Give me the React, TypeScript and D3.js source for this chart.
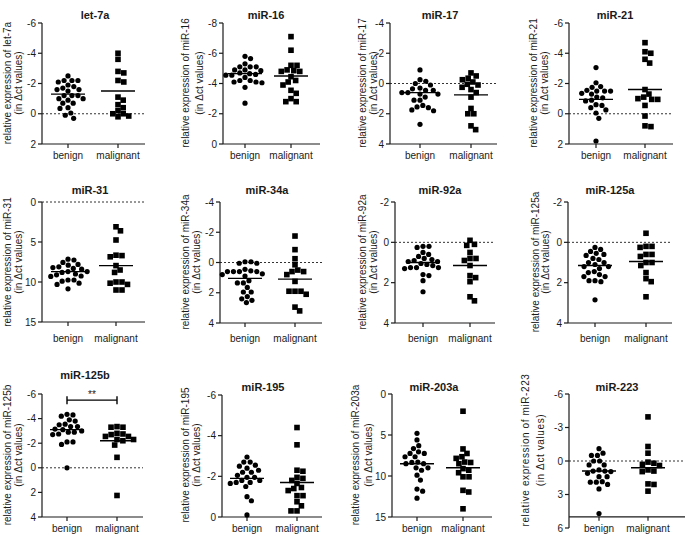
import React from 'react';
import * as d3 from 'd3';

const categories = ['benign', 'malignant'];

const panelNames = ['let-7a', 'miR-16', 'miR-17', 'miR-21', 'miR-31', 'miR-34a', 'miR-92a', 'miR-125a', 'miR-125b', 'miR-195', 'miR-203a', 'miR-223'];

// Δct values
const let7aBenign = [-2.5, -2.2, -2.2, -2.2, -2.1, -1.8, -1.7, -1.5, -1.6, -1.6, -1.2, -1.2, -1.2, -1.0, -1.0, -0.9, -0.7, -0.7, -0.35, -0.4, -0.05, 0.1, 0.3, -1.9];
const let7aMalignant = [-4.0, -3.6, -2.8, -2.7, -2.1, -2.2, -1.1, -0.6, -0.9, -0.4, 0.0, -0.2, 0.15, 0.2, 0.0];
const miR16Benign = [-5.8, -5.65, -5.3, -5.1, -5.1, -5.1, -4.9, -4.85, -4.9, -4.7, -4.65, -4.6, -4.55, -4.4, -4.55, -4.2, -4.2, -4.1, -4.05, -4.1, -3.75, -2.7];
const miR16Malignant = [-7.1, -6.2, -5.2, -5.2, -4.85, -4.9, -4.8, -4.8, -4.45, -4.2, -4.1, -3.55, -3.9, -3.35, -3.0, -2.8, -2.8];
const miR17Benign = [-0.9, -0.15, -0.25, 0.0, 0.3, 0.1, 0.45, 0.45, 0.35, 0.6, 0.7, 0.6, 0.7, 0.9, 1.1, 1.1, 1.45, 1.6, 1.55, 1.75, 1.8, 2.7];
const miR17Malignant = [-0.7, -0.5, -0.35, -0.25, -0.1, 0.05, 0.1, 0.4, 0.25, 0.6, 0.9, 1.65, 2.0, 2.0, 2.8, 3.05];
const miR21Benign = [-3.05, -2.05, -1.8, -1.75, -1.55, -1.5, -1.5, -1.5, -1.35, -1.3, -1.1, -1.05, -0.9, -0.85, -0.6, -0.4, -0.55, -0.25, -0.05, 0.3, 1.8];
const miR21Malignant = [-4.7, -4.1, -4.0, -3.6, -3.35, -1.6, -1.3, -1.0, -1.1, -0.95, -0.95, -0.55, 0.15, 0.85, 0.8];
const miR31Benign = [7.25, 7.15, 7.55, 7.9, 7.8, 8.1, 8.2, 8.3, 8.4, 8.7, 8.7, 8.8, 9.0, 9.1, 9.25, 9.3, 9.75, 9.75, 9.9, 10.15, 10.3, 10.85];
const miR31Malignant = [3.1, 3.6, 4.75, 6.7, 6.65, 6.85, 7.95, 8.5, 8.8, 10.0, 10.0, 10.3, 10.15, 11.0, 11.0];
const miR34aBenign = [-0.05, 0.05, -0.05, 0.05, 0.6, 0.6, 0.55, 0.45, 0.6, 0.6, 0.8, 0.75, 0.9, 1.2, 1.35, 1.35, 1.65, 1.95, 1.95, 2.25, 2.4, 2.5, 2.65];
const miR34aMalignant = [-1.75, -0.85, -0.25, 0.15, 0.5, 0.6, 0.6, 0.8, 1.25, 1.9, 1.9, 2.1, 1.9, 2.95, 3.2];
const miR92aBenign = [0.2, 0.2, 0.25, 0.5, 0.6, 0.7, 0.85, 0.8, 0.9, 0.95, 1.05, 0.95, 1.1, 1.15, 1.25, 1.25, 1.25, 1.3, 1.65, 1.6, 1.9, 2.45];
const miR92aMalignant = [-0.1, 0.1, 0.15, 0.5, 0.8, 0.8, 0.9, 1.15, 1.75, 1.65, 1.95, 2.7, 2.9];
const miR125aBenign = [0.25, 0.35, 0.45, 0.6, 0.55, 0.65, 0.8, 0.85, 1.0, 1.0, 1.1, 1.2, 1.3, 1.2, 1.45, 1.5, 1.6, 1.7, 1.7, 1.9, 1.9, 1.95, 2.85];
const miR125aMalignant = [-0.45, 0.2, 0.2, 0.25, 0.6, 0.6, 0.7, 1.0, 1.0, 1.15, 1.5, 1.8, 1.95, 2.7];
const miR125bBenign = [-4.3, -4.35, -4.2, -3.9, -3.8, -3.5, -3.55, -3.35, -3.35, -3.15, -3.1, -3.0, -2.9, -2.9, -2.75, -2.7, -2.1, -2.1, -1.9, 0.0];
const miR125bMalignant = [-3.3, -3.35, -3.3, -2.8, -2.75, -2.7, -2.55, -2.55, -2.3, -2.3, -2.2, -1.85, -0.85, 2.25];
const miR195Benign = [-2.95, -2.7, -2.7, -2.5, -2.55, -2.4, -2.3, -2.2, -2.2, -2.05, -1.95, -1.95, -1.8, -1.7, -1.7, -1.8, -1.65, -1.5, -1.0, -0.8, -0.1];
const miR195Malignant = [-4.4, -3.55, -2.3, -2.25, -1.95, -1.9, -1.8, -1.65, -1.45, -1.3, -1.4, -1.05, -1.05, -0.75, -0.55, -0.3, -0.3];
const miR203aBenign = [4.8, 5.6, 6.3, 6.65, 7.05, 7.25, 7.25, 7.65, 7.65, 8.35, 8.3, 8.5, 8.5, 9.0, 9.0, 9.3, 9.9, 10.5, 11.6, 11.85, 12.7];
const miR203aMalignant = [2.1, 6.7, 7.25, 7.65, 7.85, 8.3, 8.5, 8.35, 9.1, 9.3, 9.6, 10.1, 10.1, 11.75, 11.95, 14.0];
const miR223Benign = [-1.1, -0.7, -0.5, -0.5, 0.0, 0.0, 0.35, 0.35, 0.8, 0.9, 0.9, 0.95, 1.1, 1.4, 1.4, 1.9, 1.9, 2.1, 1.85, 2.5, 4.7];
const miR223Malignant = [-3.95, -1.3, -0.7, 0.2, 0.1, 0.3, 0.9, 0.8, 0.95, 2.05, 2.1, 2.7, 0.4];

const benignValues = [let7aBenign, miR16Benign, miR17Benign, miR21Benign, miR31Benign, miR34aBenign, miR92aBenign, miR125aBenign, miR125bBenign, miR195Benign, miR203aBenign, miR223Benign];
const malignantValues = [let7aMalignant, miR16Malignant, miR17Malignant, miR21Malignant, miR31Malignant, miR34aMalignant, miR92aMalignant, miR125aMalignant, miR125bMalignant, miR195Malignant, miR203aMalignant, miR223Malignant];

const meanBenign = [-1.3, -4.65, 0.6, -0.95, 8.7, 1.05, 1.0, 1.15, -3.1, -1.9, 8.5, 0.9];
const meanMalignant = [-1.5, -4.5, 0.75, -1.6, 7.95, 1.1, 1.15, 0.95, -2.2, -1.7, 9.0, 0.6];

const yDomains = [[-6, 2], [-8, 0], [-4, 4], [-6, 2], [0, 15], [-4, 4], [-2, 4], [-2, 4], [-6, 4], [-6, 0], [0, 15], [-6, 6]];
const yTicks = [
  [-6, -4, -2, 0, 2], [-8, -6, -4, -2, 0], [-4, -2, 0, 2, 4], [-6, -4, -2, 0, 2],
  [0, 5, 10, 15], [-4, -2, 0, 2, 4], [-2, 0, 2, 4], [-2, 0, 2, 4],
  [-6, -4, -2, 0, 2, 4], [-6, -4, -2, 0], [0, 5, 10, 15], [-6, -3, 0, 3, 6],
];
const zeroLine = [true, false, true, true, true, true, true, true, true, false, false, true];
const xAxisValue = [2, 0, 4, 2, 15, 4, 4, 4, 4, 0, 15, 5];
const significance = [null, null, null, null, null, null, null, null, { label: '**', value: -5.5 }, null, null, null];

// layout (pixels)
const layout = [
  { ax: 42, top: 23, bot: 144, right: 145, bx: 68, mx: 118, tx: 95, ty: 19, lx1: 7, lx2: 18, ly: 83, xly: 159 },
  { ax: 223, top: 23, bot: 144, right: 320, bx: 245, mx: 291, tx: 266, ty: 19, lx1: 185, lx2: 199, ly: 83, xly: 159 },
  { ax: 390, top: 23, bot: 144, right: 497, bx: 420, mx: 471, tx: 440, ty: 19, lx1: 362, lx2: 373, ly: 83, xly: 159 },
  { ax: 569, top: 23, bot: 144, right: 673, bx: 596, mx: 645, tx: 615, ty: 19, lx1: 533, lx2: 544, ly: 83, xly: 159 },
  { ax: 42, top: 202, bot: 322, right: 145, bx: 68, mx: 116, tx: 90, ty: 194, lx1: 7, lx2: 18, ly: 262, xly: 342 },
  { ax: 220, top: 202, bot: 323, right: 322, bx: 245, mx: 295, tx: 267, ty: 194, lx1: 185, lx2: 196, ly: 262, xly: 342 },
  { ax: 395, top: 202, bot: 323, right: 495, bx: 423, mx: 470, tx: 440, ty: 194, lx1: 362, lx2: 373, ly: 262, xly: 342 },
  { ax: 568, top: 202, bot: 323, right: 672, bx: 595, mx: 646, tx: 610, ty: 194, lx1: 535, lx2: 545, ly: 262, xly: 342 },
  { ax: 42, top: 394, bot: 517, right: 143, bx: 67, mx: 117, tx: 85, ty: 379, lx1: 7, lx2: 18, ly: 455, xly: 532 },
  { ax: 222, top: 395, bot: 517, right: 322, bx: 247, mx: 297, tx: 263, ty: 391, lx1: 185, lx2: 196, ly: 455, xly: 532 },
  { ax: 392, top: 394, bot: 517, right: 492, bx: 417, mx: 463, tx: 434, ty: 391, lx1: 355, lx2: 368, ly: 455, xly: 532 },
  { ax: 569, top: 394, bot: 528, right: 685, bx: 599, mx: 648, tx: 617, ty: 391, lx1: 525, lx2: 540, ly: 450, xly: 532 },
];

const FONT = '"Liberation Sans", Arial, Helvetica, sans-serif';
const INK = '#1a1a1a';
const R = 2.8;

function swarm(values: number[], y: (v: number) => number, r: number) {
  const pts = values.map((v, i) => ({ v, y: y(v), i })).sort((a, b) => a.y - b.y);
  const placed: { v: number; y: number; i: number; dx: number }[] = [];
  const d = 2 * r + 0.4;
  for (const p of pts) {
    const cands = [0];
    for (const q of placed) {
      const dy = Math.abs(q.y - p.y);
      if (dy < d) {
        const dx = Math.sqrt(d * d - dy * dy);
        cands.push(q.dx + dx, q.dx - dx);
      }
    }
    cands.sort((a, b) => Math.abs(a) - Math.abs(b));
    let chosen = 0;
    for (const c of cands) {
      if (placed.every((q) => (q.dx - c) ** 2 + (q.y - p.y) ** 2 >= d * d - 1e-6)) {
        chosen = c;
        break;
      }
    }
    placed.push({ ...p, dx: chosen });
  }
  return placed;
}

function Panel({ idx }: { idx: number }) {
  const L = layout[idx];
  const y = d3.scaleLinear().domain(yDomains[idx]).range([L.top, L.bot]);
  const x = d3.scalePoint<string>().domain(categories).range([L.bx, L.mx]);
  const xAxisY = y(xAxisValue[idx]);
  const name = panelNames[idx];
  const bx = x('benign')!;
  const mx = x('malignant')!;
  const bPts = swarm(benignValues[idx], y, R);
  const mPts = swarm(malignantValues[idx], y, R);
  const sig = significance[idx];
  const extraSpacing = idx === 11 ? 0.6 : 0;
  return (
    <g>
      <text x={L.tx} y={L.ty} textAnchor="middle" fontFamily={FONT} fontWeight="bold" fontSize={11} fill={INK}>{name}</text>
      {zeroLine[idx] && (
        <line x1={L.ax} x2={L.right} y1={y(0)} y2={y(0)} stroke="#333" strokeWidth={1} strokeDasharray="2,2" />
      )}
      {/* y axis */}
      <line x1={L.ax} x2={L.ax} y1={L.top} y2={L.bot} stroke={INK} strokeWidth={1.2} />
      {yTicks[idx].map((t) => (
        <g key={t}>
          <line x1={L.ax - 4} x2={L.ax} y1={y(t)} y2={y(t)} stroke={INK} strokeWidth={1.2} />
          <text x={L.ax - 6} y={y(t)} dy="0.35em" textAnchor="end" fontFamily={FONT} fontSize={10} fill={INK}>{t}</text>
        </g>
      ))}
      {/* x axis */}
      <line x1={L.ax} x2={L.right} y1={xAxisY} y2={xAxisY} stroke={INK} strokeWidth={1.2} />
      {categories.map((c) => (
        <g key={c}>
          <line x1={x(c)!} x2={x(c)!} y1={xAxisY} y2={xAxisY + 4} stroke={INK} strokeWidth={1.2} />
          <text x={x(c)!} y={L.xly} textAnchor="middle" fontFamily={FONT} fontSize={10} fill={INK}>{c}</text>
        </g>
      ))}
      {/* y label */}
      <text transform={`translate(${L.lx1},${L.ly}) rotate(-90)`} textAnchor="middle" dominantBaseline="central" fontFamily={FONT} fontSize={10} letterSpacing={extraSpacing} fill={INK}>
        {`relative expression of ${name}`}
      </text>
      <text transform={`translate(${L.lx2},${L.ly}) rotate(-90)`} textAnchor="middle" dominantBaseline="central" fontFamily={FONT} fontSize={10} letterSpacing={extraSpacing} fill={INK}>
        (in Δct values)
      </text>
      {/* points */}
      {bPts.map((p) => (
        <circle key={`b${p.i}`} cx={bx + p.dx} cy={p.y} r={R - 0.2} fill="#000" />
      ))}
      {mPts.map((p) => (
        <rect key={`m${p.i}`} x={mx + p.dx - R} y={p.y - R} width={2 * R} height={2 * R} fill="#000" />
      ))}
      {/* mean lines */}
      <line x1={bx - 17} x2={bx + 17} y1={y(meanBenign[idx])} y2={y(meanBenign[idx])} stroke="#000" strokeWidth={1.4} />
      <line x1={mx - 17} x2={mx + 17} y1={y(meanMalignant[idx])} y2={y(meanMalignant[idx])} stroke="#000" strokeWidth={1.4} />
      {sig && (
        <g>
          <line x1={bx} x2={mx} y1={y(sig.value)} y2={y(sig.value)} stroke="#000" strokeWidth={1.4} />
          <line x1={bx} x2={bx} y1={y(sig.value) - 4} y2={y(sig.value) + 4} stroke="#000" strokeWidth={1.4} />
          <line x1={mx} x2={mx} y1={y(sig.value) - 4} y2={y(sig.value) + 4} stroke="#000" strokeWidth={1.4} />
          <text x={(bx + mx) / 2} y={y(sig.value) - 2} textAnchor="middle" fontFamily={FONT} fontSize={10} fill={INK}>{sig.label}</text>
        </g>
      )}
    </g>
  );
}

export default function App() {
  return (
    <svg width={685} height={536} style={{ position: 'absolute', left: 0, top: 0, background: '#fff' }}>
      <rect width={685} height={536} fill="#fff" />
      {panelNames.map((_, i) => (
        <Panel key={i} idx={i} />
      ))}
    </svg>
  );
}
